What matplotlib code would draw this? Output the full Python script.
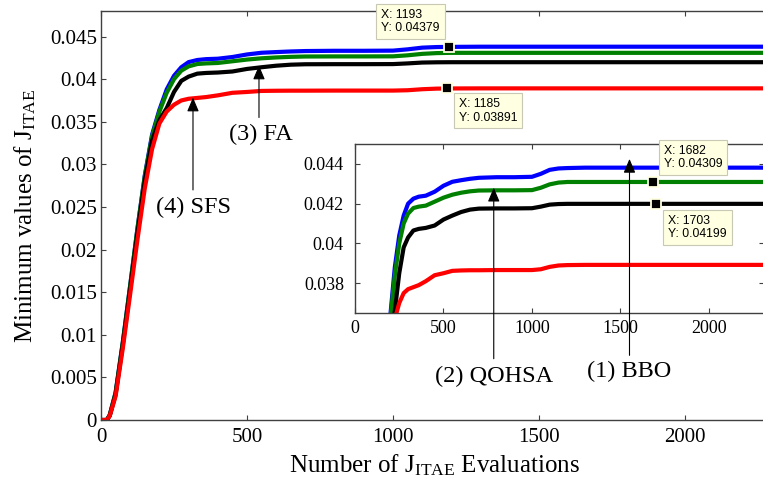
import matplotlib
matplotlib.use("Agg")
import matplotlib.pyplot as plt

plt.rcParams['font.family'] = 'Liberation Serif'
plt.rcParams['mathtext.fontset'] = 'custom'
plt.rcParams['mathtext.rm'] = 'Liberation Serif'
plt.rcParams['mathtext.it'] = 'Liberation Serif:italic'

# number of J_ITAE evaluations
evals = [0, 20, 30, 50, 75, 100, 125, 150, 175, 200, 225, 250, 275, 300, 330, 360,
         400, 450, 500, 550, 600, 650, 700, 800, 900, 1000, 1050, 1100, 1150, 1200,
         1300, 1700, 2400]

# best J_ITAE found so far for each algorithm
bbo = [0, 0, 0.0006, 0.0032, 0.0092, 0.0158, 0.0225, 0.0287, 0.0335, 0.0364, 0.0388,
       0.0404, 0.0414, 0.0420, 0.04225, 0.04235, 0.0424, 0.0426, 0.0429, 0.0431,
       0.04318, 0.04325, 0.0433, 0.04333, 0.04333, 0.04335, 0.0435, 0.0437, 0.04377,
       0.04379, 0.04381, 0.04381, 0.04381]
qohsa = [0, 0, 0.0006, 0.0032, 0.0092, 0.0158, 0.0225, 0.0286, 0.0333, 0.0362, 0.0384,
         0.0400, 0.0410, 0.0415, 0.04178, 0.04185, 0.0419, 0.0421, 0.0423, 0.04245,
         0.04255, 0.04262, 0.04266, 0.04267, 0.04267, 0.04268, 0.0428, 0.04297, 0.04306,
         0.04309, 0.04309, 0.04309, 0.04309]
fa = [0, 0, 0.0005, 0.0030, 0.0089, 0.0154, 0.0220, 0.0281, 0.0328, 0.0352, 0.0366,
      0.0385, 0.0398, 0.0403, 0.04065, 0.04073, 0.04078, 0.0409, 0.0412, 0.0414,
      0.04158, 0.0417, 0.04175, 0.04176, 0.04176, 0.04177, 0.04185, 0.04195, 0.04198,
      0.04199, 0.04199, 0.04199, 0.04199]
sfs = [0, 0, 0.0005, 0.0028, 0.0085, 0.0148, 0.0212, 0.0272, 0.0318, 0.0348, 0.0362,
       0.0370, 0.0375, 0.0377, 0.0378, 0.0379, 0.0381, 0.0384, 0.0385, 0.03862,
       0.03864, 0.03865, 0.03865, 0.03866, 0.03866, 0.03866, 0.0387, 0.03882, 0.03889,
       0.03891, 0.03892, 0.03892, 0.03892]

series = [bbo, qohsa, fa, sfs]
colors = ['#0000ff', '#008000', '#000000', '#ff0000']

main_xticks = [0, 500, 1000, 1500, 2000]
main_yticks = [0, 0.005, 0.01, 0.015, 0.02, 0.025, 0.03, 0.035, 0.04, 0.045]
inset_xticks = [0, 500, 1000, 1500, 2000]
inset_yticks = [0.038, 0.04, 0.042, 0.044]

main_tips = [(1193, 0.04379), (1185, 0.03891)]
inset_tips = [(1682, 0.04309), (1703, 0.04199)]

spine_col = '#404040'
tip_face = '#ffffe1'

fig = plt.figure(figsize=(7.63, 4.86), dpi=100)
fig.patch.set_facecolor('white')


def style_axes(ax, size, xpad, ypad):
    for s in ax.spines.values():
        s.set_color(spine_col)
        s.set_linewidth(1.0)
    ax.tick_params(direction='in', length=3.5, width=0.8, color=spine_col,
                   top=True, right=True, labelsize=size)
    ax.tick_params(axis='x', pad=xpad)
    ax.tick_params(axis='y', pad=ypad)


def data_tip(ax, x, y, dx, dy, ha, va):
    ax.plot([x], [y], marker='s', ms=6.5, mfc='black', mec=tip_face, mew=1.3,
            zorder=5, clip_on=False)
    ax.annotate(f"X: {x}\nY: {y}", xy=(x, y), xytext=(dx, dy),
                textcoords='offset points', ha=ha, va=va, multialignment='left',
                fontsize=8.8, family='Liberation Sans', linespacing=1.15, zorder=6,
                annotation_clip=False,
                bbox=dict(boxstyle='square,pad=0.4', fc=tip_face, ec='#c8c8b4', lw=0.8))


def arrow_label(ax, text, tip, tail, text_xy, size):
    ax.annotate('', xy=tip, xytext=tail, annotation_clip=False,
                arrowprops=dict(arrowstyle='-|>,head_length=0.85,head_width=0.36',
                                mutation_scale=10, color='black', lw=0.8,
                                shrinkA=0, shrinkB=0))
    ax.text(text_xy[0], text_xy[1], text, ha='center', va='center', fontsize=size,
            clip_on=False)


# ---- main axes ----
ax = fig.add_axes([101 / 763, 66 / 486, 667 / 763, 409 / 486])
for ys, c in zip(series, colors):
    ax.plot(evals, ys, color=c, lw=3.0, solid_capstyle='round')
ax.set_xlim(0, 2284)
ax.set_ylim(0, 0.048)
ax.set_xticks(main_xticks)
ax.set_yticks(main_yticks)
ax.set_yticklabels([f"{v:g}" for v in main_yticks])
style_axes(ax, 15, 5.5, 3)
ax.set_xlabel(r'Number of J$_{\mathrm{ITAE}}$ Evaluations', fontsize=18)
ax.set_ylabel(r'Minimum values of J$_{\mathrm{ITAE}}$', fontsize=18)
ax.xaxis.set_label_coords(0.5, -0.08)
ax.yaxis.set_label_coords(-0.095, 0.5)

arrow_label(ax, '(4) SFS', (315, 0.03784), (315, 0.0270), (318, 0.0249), 17.5)
arrow_label(ax, '(3) FA', (541, 0.0416), (541, 0.0355), (547, 0.0335), 17.5)

data_tip(ax, *main_tips[0], -7, 9, 'right', 'bottom')
data_tip(ax, *main_tips[1], 8.5, -7, 'left', 'top')

# ---- inset axes ----
ax2 = fig.add_axes([355 / 763, 173 / 486, 409 / 763, 169 / 486])
for ys, c in zip(series, colors):
    ax2.plot(evals, ys, color=c, lw=3.0, solid_capstyle='round')
ax2.set_xlim(0, 2311)
ax2.set_ylim(0.0365, 0.045)
ax2.set_xticks(inset_xticks)
ax2.set_yticks(inset_yticks)
ax2.set_yticklabels([f"{v:g}" for v in inset_yticks])
style_axes(ax2, 13, 5, 8)

arrow_label(ax2, '(2) QOHSA', (784, 0.0428), (784, 0.0342), (784, 0.03333), 17.5)
arrow_label(ax2, '(1) BBO', (1551, 0.04425), (1551, 0.03437), (1551, 0.03358), 17.5)

data_tip(ax2, *inset_tips[0], 8, 8.5, 'left', 'bottom')
data_tip(ax2, *inset_tips[1], 8.5, -8, 'left', 'top')

fig.savefig('out.png', dpi=100, facecolor='white')
